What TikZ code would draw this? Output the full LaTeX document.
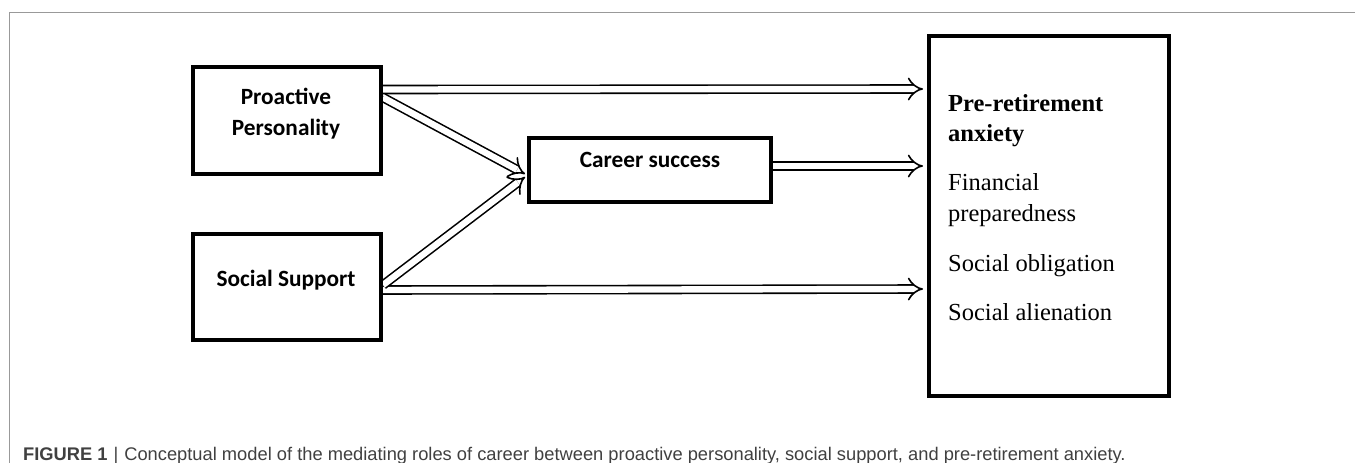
\documentclass[tikz,border=0pt]{standalone}
\usepackage{fontspec}
\setmainfont{Liberation Serif}
\newfontfamily\boxfont{Carlito}
\newfontfamily\rfont{Liberation Serif}
\newfontfamily\capfont{Liberation Sans}
\usetikzlibrary{arrows.meta,calc}
\tikzset{
  box/.style={draw, line width=4pt, inner sep=0pt},
  btext/.style={font=\boxfont\bfseries\fontsize{23.3}{30.5}\selectfont, align=center, inner sep=0pt},
  rtext/.style={font=\rfont\fontsize{24.5}{31}\selectfont, anchor=base west, inner sep=0pt},
  rbold/.style={rtext, font=\rfont\bfseries\fontsize{24.5}{31}\selectfont},
  dbl/.style={double=white, double distance=6.4pt, line width=1.6pt, -{Implies[length=9pt,width=21pt]}},
}
\begin{document}
\begin{tikzpicture}[x=1pt,y=-1pt]
\useasboundingbox (0,0) rectangle (1355,463);
\draw[black!40, line width=1pt] (9,463) -- (9,12) -- (1355,12);
% boxes
\node[box, minimum width=188pt, minimum height=107pt] (P) at (287,120.5) {};
\node[box, minimum width=188pt, minimum height=106pt] (S) at (287,287) {};
\node[box, minimum width=242pt, minimum height=64pt] (C) at (650,170) {};
\node[box, minimum width=240pt, minimum height=360pt] (R) at (1049,216) {};
% connectors
\draw[dbl] ($(P.east)+(0,-31)$) -- ($(R.west)+(-4,-127)$);
\draw[dbl] ($(C.east)+(0,-4)$) -- ($(R.west)+(-4,-50)$);
\draw[dbl] ($(S.east)+(0,3)$) -- ($(R.west)+(-4,73)$);
\draw[dbl] ($(P.east)+(0,-23)$) -- ($(C.west)+(-2,4)$);
\draw[dbl] ($(S.east)+(0,-2)$) -- ($(C.west)+(-2,7)$);
% redraw box borders on top
\node[box, minimum width=188pt, minimum height=107pt] at (P) {};
\node[box, minimum width=188pt, minimum height=106pt] at (S) {};
\node[box, minimum width=242pt, minimum height=64pt] at (C) {};
% texts
\node[btext] (Pt) at ($(P.center)+(-1,-7)$) {Proactive\\Personality};
\node[btext] (St) at ($(S.center)+(-1,-7)$) {Social Support};
\node[btext] (Ct) at ($(C.center)+(0,-10)$) {Career success};
\node[rbold] (t1) at (948,111.5) {Pre-retirement};
\node[rbold] (t2) at (948,141.5) {anxiety};
\node[rtext] (t3) at (948,190.5) {Financial};
\node[rtext] (t4) at (948,221.5) {preparedness};
\node[rtext] (t5) at (948,271.5) {Social obligation};
\node[rtext] (t6) at (948,320.5) {Social alienation};
% caption
\node[anchor=base west, inner sep=0pt, text=black!75, font=\capfont\fontsize{18.3}{20}\selectfont] (cap) at (23,460)
  {\textbf{FIGURE 1}\hspace{6pt}|\hspace{6pt}Conceptual model of the mediating roles of career between proactive personality, social support, and pre-retirement anxiety.};
\end{tikzpicture}
\end{document}
